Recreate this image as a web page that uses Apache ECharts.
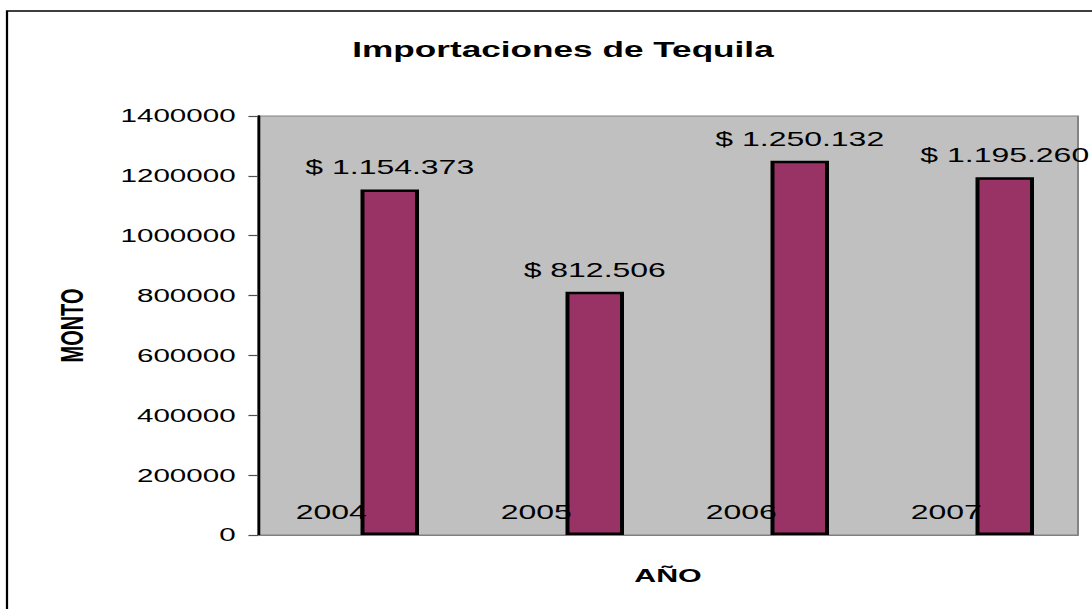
<!DOCTYPE html>
<html>
<head>
<meta charset="utf-8">
<title>Importaciones de Tequila</title>
<script src="https://cdn.jsdelivr.net/npm/echarts@6/dist/echarts.min.js"></script>
<style>
  html, body { margin: 0; padding: 0; background: #fff; overflow: hidden; }
  /* The chart is laid out on a narrower canvas and widened horizontally,
     giving the broad, stretched lettering of the original spreadsheet export. */
  #chart {
    width: 683px;
    height: 609px;
    transform: scaleX(1.59883);
    transform-origin: 0 0;
  }
</style>
</head>
<body>
<div id="chart"></div>
<script>
// ---- data ----
const years = ['2004', '2005', '2006', '2007'];
const yearValues = [2004, 2005, 2006, 2007];
const montos = [1154373, 812506, 1250132, 1195260];

const titleText = 'Importaciones de Tequila';
const xName = 'AÑO';
const yName = 'MONTO';
const yMin = 0;
const yMax = 1400000;
const yStep = 200000;

// ---- layout helpers (final page pixels -> pre-stretch canvas pixels) ----
const SX = 1092 / 683;
const px = x => x / SX;

const FONT = '"Liberation Sans", Arial, Helvetica, sans-serif';

function money(v) {
  return '$ ' + String(v).replace(/\B(?=(\d{3})+(?!\d))/g, '.');
}

const chart = echarts.init(document.getElementById('chart'), null, { renderer: 'svg' });

chart.setOption({
  animation: false,
  backgroundColor: '#ffffff',
  title: {
    text: titleText,
    left: px(555),
    textAlign: 'center',
    top: 33,
    textStyle: { fontFamily: FONT, fontSize: 22, fontWeight: 'bold', color: '#000' }
  },
  graphic: [{
    type: 'rect',
    silent: true,
    shape: { x: px(7), y: 11, width: 800, height: 700 },
    style: { fill: 'none', stroke: '#000', lineWidth: 1.4 }
  }],
  grid: {
    left: px(258),
    right: 683 - px(1078),
    top: 116,
    bottom: 609 - 535,
    show: true,
    backgroundColor: '#C0C0C0',
    borderColor: '#808080',
    borderWidth: 1.2
  },
  xAxis: {
    type: 'category',
    data: years,
    name: xName,
    nameLocation: 'middle',
    nameGap: 31,
    nameTextStyle: { fontFamily: FONT, fontSize: 19, fontWeight: 'bold', color: '#000' },
    axisLine: { show: true, lineStyle: { color: '#808080', width: 1.2 } },
    axisTick: { show: false },
    axisLabel: { show: false },
    splitLine: { show: false }
  },
  yAxis: {
    type: 'value',
    min: yMin,
    max: yMax,
    interval: yStep,
    name: yName,
    nameLocation: 'middle',
    nameGap: 106,
    nameTextStyle: { fontFamily: FONT, fontSize: 20, fontWeight: 'bold', color: '#000' },
    axisLine: { show: true, lineStyle: { color: '#000', width: 1.6 } },
    axisTick: { show: true, inside: false, length: 6, lineStyle: { color: '#505050', width: 1.2 } },
    axisLabel: {
      margin: 14,
      fontFamily: FONT,
      fontSize: 18.5,
      color: '#000',
      formatter: v => String(v)
    },
    splitLine: { show: false }
  },
  series: [
    {
      name: 'Año',
      type: 'bar',
      data: yearValues,
      barWidth: px(58.5),
      barGap: '0%',
      itemStyle: { color: 'transparent', borderWidth: 0 },
      label: {
        show: true,
        position: 'top',
        distance: 12,
        fontFamily: FONT,
        fontSize: 20,
        color: '#000',
        formatter: p => String(p.value)
      }
    },
    {
      name: 'Monto',
      type: 'bar',
      data: montos,
      barWidth: px(58.5),
      barGap: '0%',
      itemStyle: { color: '#993366', borderColor: '#000', borderWidth: 2.5 },
      label: {
        show: true,
        position: 'top',
        distance: 12,
        fontFamily: FONT,
        fontSize: 20,
        color: '#000',
        formatter: p => money(p.value)
      }
    }
  ]
});
</script>
</body>
</html>
